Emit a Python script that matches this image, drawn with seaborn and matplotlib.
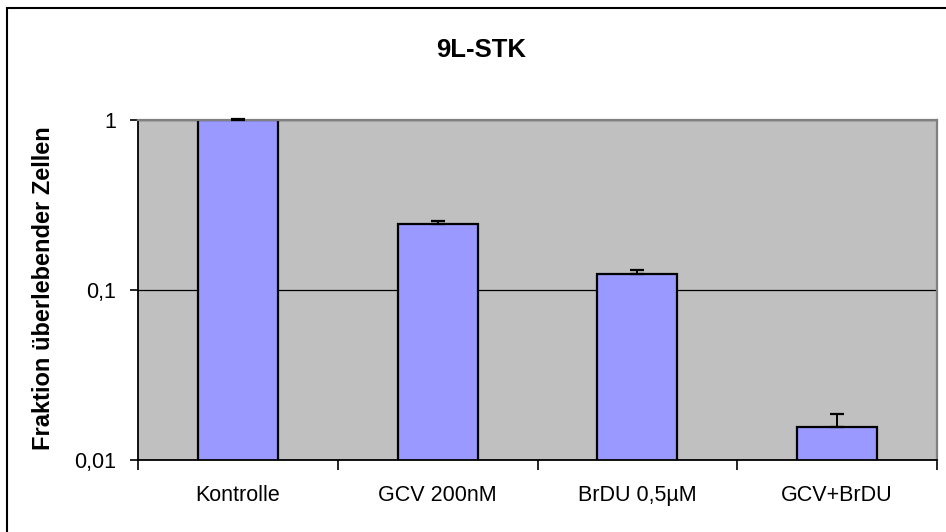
import matplotlib
matplotlib.use("Agg")
import matplotlib.pyplot as plt
from matplotlib.patches import Rectangle
from matplotlib.ticker import FixedLocator, NullLocator
import numpy as np
import pandas as pd
import seaborn as sns

# Survival fractions for 9L-STK cells per treatment
categories = ["Kontrolle", "GCV 200nM", "BrDU 0,5µM", "GCV+BrDU"]
fraction = [1.0, 0.243, 0.124, 0.0157]
upper_err = [0.02, 0.012, 0.0074, 0.0029]
ytick_values = [0.01, 0.1, 1]
ytick_labels = ["0,01", "0,1", "1"]

df = pd.DataFrame({"Behandlung": categories, "Fraktion": fraction})

sns.set_theme(style="white")
plt.rcParams["font.family"] = ["Liberation Sans", "DejaVu Sans"]

W, H = 946, 532
fig = plt.figure(figsize=(W / 100, H / 100), dpi=100)
ax = fig.add_axes([138 / W, 1 - 460 / H, (937 - 138) / W, (460 - 120) / H])
ax.set_facecolor("#C0C0C0")

ax.set_yscale("log")
sns.barplot(data=df, x="Behandlung", y="Fraktion", ax=ax, color="#9999FF",
            saturation=1, width=0.4, edgecolor="black", linewidth=1.6,
            errorbar=None)

xpos = np.arange(len(categories))
ax.errorbar(xpos, fraction, yerr=[np.zeros(len(fraction)), upper_err],
            fmt="none", ecolor="black", elinewidth=1.4, capsize=5,
            capthick=1.6, clip_on=False, zorder=5)

ax.set_ylim(0.01, 1)
ax.set_xlim(-0.5, len(categories) - 0.5)

# y axis: decades with comma decimal labels, gridline at each decade
ax.yaxis.set_major_locator(FixedLocator(ytick_values))
ax.yaxis.set_minor_locator(NullLocator())
ax.set_yticklabels(ytick_labels)
ax.yaxis.grid(True, color="black", linewidth=0.9)
ax.set_axisbelow(True)

# x axis: labels centred on categories, tick marks between categories
ax.set_xticks(xpos)
ax.set_xticklabels(categories)
ax.set_xticks(np.arange(-0.5, len(categories)), minor=True)
ax.tick_params(axis="x", which="major", length=0, pad=18, labelsize=15.5,
               colors="black")
ax.tick_params(axis="x", which="minor", length=7, width=1.2, color="black",
               direction="out", bottom=True)
ax.tick_params(axis="y", which="major", length=6, width=1.2, color="black",
               direction="out", left=True, pad=10, labelsize=15.5,
               labelcolor="black")

ax.set_xlabel("")
ax.set_ylabel("")

for side in ["left", "bottom"]:
    ax.spines[side].set_color("black")
    ax.spines[side].set_linewidth(1.3)
for side in ["top", "right"]:
    ax.spines[side].set_color("#808080")
    ax.spines[side].set_linewidth(1.6)

fig.text(481 / W, 1 - 50 / H, "9L-STK", ha="center", va="center",
         fontsize=18.5, fontweight="bold", color="black")
fig.text(43 / W, 1 - 288 / H, "Fraktion überlebender Zellen", rotation=90,
         ha="center", va="center", fontsize=17, fontweight="bold",
         color="black")

# chart frame
fig.patches.append(Rectangle((7 / W, -0.05), 1.1, 1 - 8 / H + 0.05,
                             transform=fig.transFigure, fill=False,
                             edgecolor="black", linewidth=1.5))

fig.savefig("out.png", dpi=100, facecolor="white")
